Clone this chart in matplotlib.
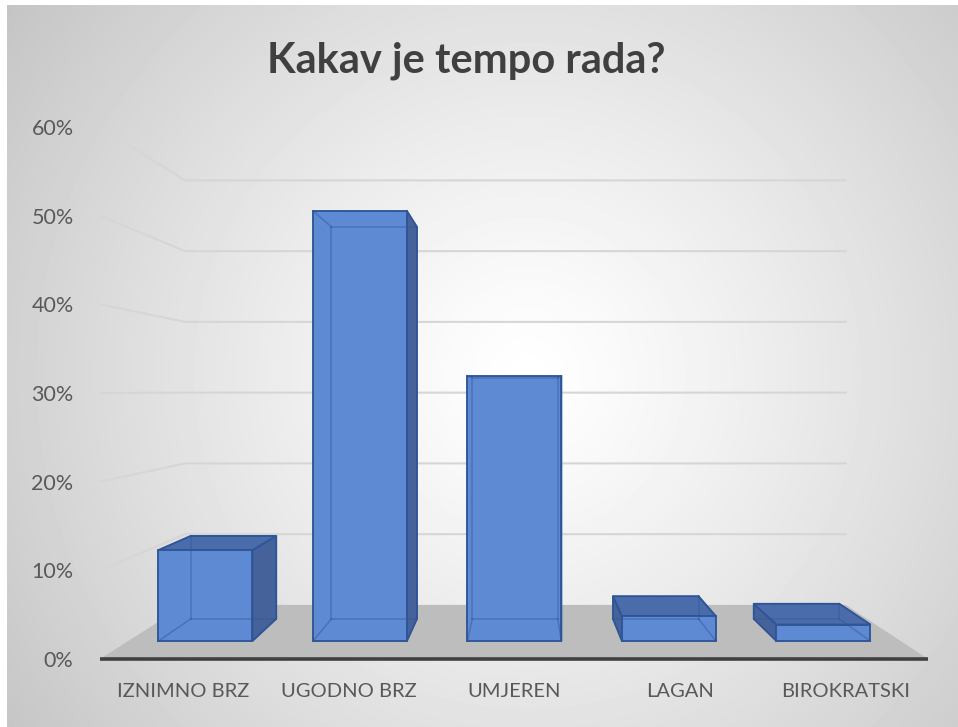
import numpy as np
import matplotlib.pyplot as plt
from matplotlib.patches import Polygon

# chart data (percent of answers)
categories = ['IZNIMNO BRZ', 'UGODNO BRZ', 'UMJEREN', 'LAGAN', 'BIROKRATSKI']
values = [11, 52, 32, 3, 2]
y_ticks = [0, 10, 20, 30, 40, 50, 60]
y_tick_labels = ['0%', '10%', '20%', '30%', '40%', '50%', '60%']
title = 'Kakav je tempo rada?'

W, H = 958, 727
plt.rcParams['font.family'] = ['Lato', 'DejaVu Sans']

fig = plt.figure(figsize=(W / 100, H / 100), dpi=100)
fig.patch.set_facecolor('white')

# radial grey background of the chart area
bg = fig.add_axes([7 / W, 0, 1 - 7 / W, 1 - 5 / H])
yy, xx = np.mgrid[0:722, 0:951]
r = np.hypot(xx - 520, yy - 370)
shade = 1 - 0.23 * (r / r.max()) ** 1.2
bg.imshow(shade, cmap='gray', vmin=0, vmax=1, aspect='auto', interpolation='bilinear')
bg.axis('off')

# main axes = front plane of the 3d box
ax = fig.add_axes([100 / W, (H - 659) / H, 828 / W, (659 - 127) / H])
ax.set_xlim(-0.5, 4.5)
ax.set_ylim(0, 60)
ax.patch.set_alpha(0)
for sp in ax.spines.values():
    sp.set_visible(False)

# perspective: everything shrinks towards a vanishing point
VX, VY = 2.04, 30.2
S_WALL, S_FRONT, S_BACK = 0.798, 0.933, 0.850
bw = 0.608


def proj(x, y, s):
    return (VX + s * (x - VX), VY + s * (y - VY))


grid_col = '#d6d6d6'
for v in y_ticks[1:]:
    p0 = proj(-0.5, v, 1)
    p1 = proj(-0.5, v, S_WALL)
    p2 = proj(4.5, v, S_WALL)
    ax.plot([p0[0], p1[0], p2[0]], [p0[1], p1[1], p2[1]], color=grid_col,
            lw=1.5, clip_on=False, zorder=1)

# floor
floor = [proj(-0.5, 0, 1), proj(4.5, 0, 1), proj(4.5, 0, S_WALL), proj(-0.5, 0, S_WALL)]
ax.add_patch(Polygon(floor, closed=True, facecolor='#bdbdbd', edgecolor='none',
                     clip_on=False, zorder=2))

edge = '#2f5597'
for i, v in enumerate(values):
    x0, x1 = i - bw / 2, i + bw / 2
    faces = []
    if i < VX:
        faces.append(([proj(x1, 0, S_FRONT), proj(x1, 0, S_BACK),
                       proj(x1, v, S_BACK), proj(x1, v, S_FRONT)], '#46629b'))
    else:
        faces.append(([proj(x0, 0, S_FRONT), proj(x0, 0, S_BACK),
                       proj(x0, v, S_BACK), proj(x0, v, S_FRONT)], '#46629b'))
    if v < VY:
        faces.append(([proj(x0, v, S_FRONT), proj(x1, v, S_FRONT),
                       proj(x1, v, S_BACK), proj(x0, v, S_BACK)], '#4b6cab'))
    faces.append(([proj(x0, 0, S_FRONT), proj(x1, 0, S_FRONT),
                   proj(x1, v, S_FRONT), proj(x0, v, S_FRONT)], '#5e89d3'))
    for pts, col in faces:
        ax.add_patch(Polygon(pts, closed=True, facecolor=col, edgecolor=edge,
                             lw=1.3, clip_on=False, zorder=3))
    # edges seen through the translucent faces
    corners = {}
    for cx in (x0, x1):
        for cy in (0, v):
            for cs in (S_FRONT, S_BACK):
                corners[(cx, cy, cs)] = proj(cx, cy, cs)
    keys = list(corners)
    for a in range(len(keys)):
        for b in range(a + 1, len(keys)):
            ka, kb = keys[a], keys[b]
            if sum(ka[k] != kb[k] for k in range(3)) == 1:
                pa, pb = corners[ka], corners[kb]
                ax.plot([pa[0], pb[0]], [pa[1], pb[1]], color=edge, lw=1.1,
                        alpha=0.45, clip_on=False, zorder=4)

# category axis line
ax.plot([-0.5, 4.5], [0, 0], color='#404040', lw=2.6, clip_on=False, zorder=5,
        solid_capstyle='butt')

ax.set_yticks(y_ticks)
ax.set_yticklabels(y_tick_labels)
ax.set_xticks(range(len(categories)))
ax.set_xticklabels(categories)
ax.tick_params(axis='y', length=0, pad=19, labelsize=15.5, labelcolor='#595959')
ax.tick_params(axis='x', length=0, pad=17, labelsize=14.5, labelcolor='#595959')

fig.text(466 / W, 1 - 72 / H, title, ha='center', va='baseline', fontsize=30,
         fontweight='bold', color='#404040')

fig.savefig('out.png', dpi=100)
